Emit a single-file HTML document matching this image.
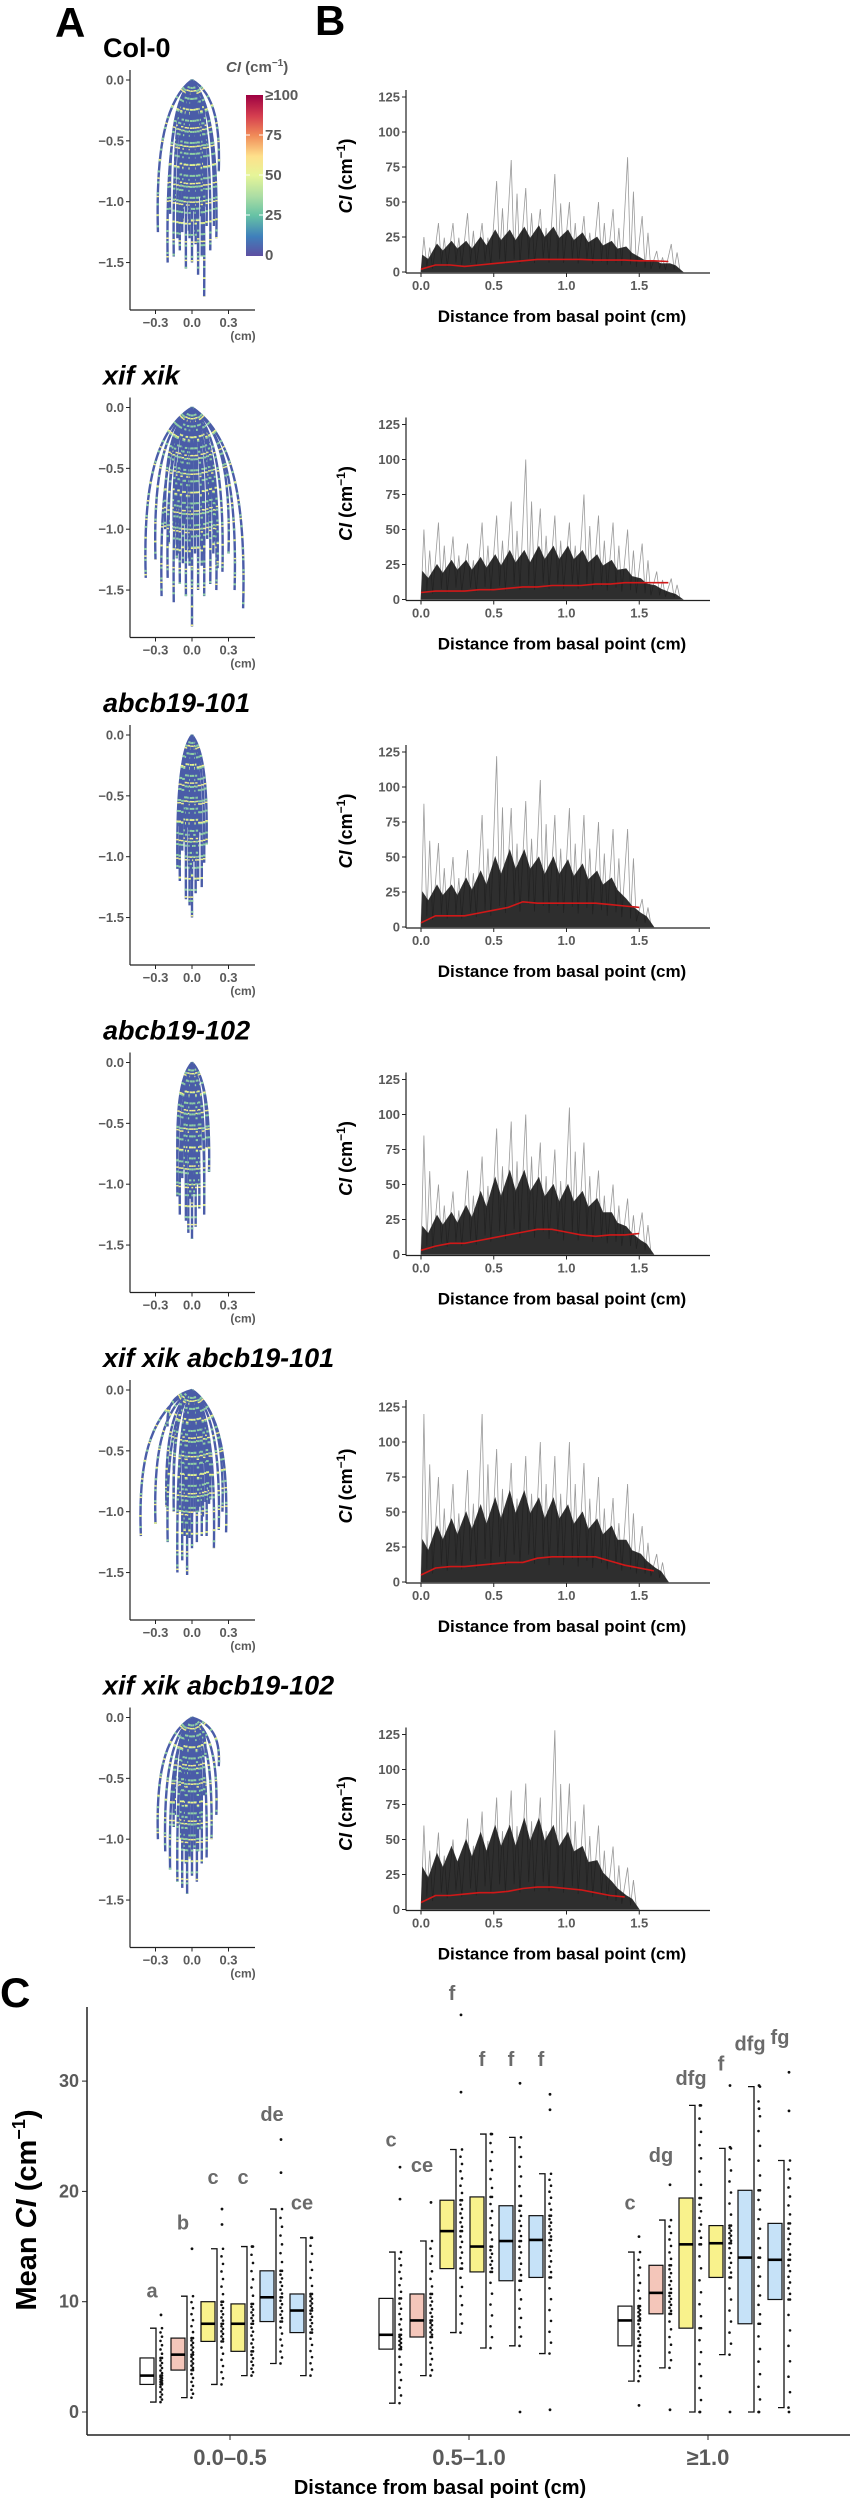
<!DOCTYPE html>
<html><head><meta charset="utf-8"><style>
body{margin:0;background:#fff}
svg text{font-family:"Liberation Sans",sans-serif}
</style></head><body>
<svg id="fig" width="850" height="2500" viewBox="0 0 850 2500" xmlns="http://www.w3.org/2000/svg">
<defs>
<linearGradient id="spec" x1="0" y1="1" x2="0" y2="0">
<stop offset="0" stop-color="#5e4fa2"/><stop offset="0.12" stop-color="#3f7fbb"/><stop offset="0.25" stop-color="#66c2a5"/><stop offset="0.37" stop-color="#abdda4"/><stop offset="0.5" stop-color="#e6f598"/><stop offset="0.62" stop-color="#fee08b"/><stop offset="0.75" stop-color="#f08a58"/><stop offset="0.87" stop-color="#d53e4f"/><stop offset="1" stop-color="#9e0142"/>
</linearGradient>
</defs>
<text x="55" y="37" font-size="42" font-weight="bold">A</text>
<text x="315" y="35" font-size="42" font-weight="bold">B</text>
<text x="0" y="2007" font-size="42" font-weight="bold">C</text>
<g id="rows"></g>
<g id="pc"></g>
</svg>
<script>
const NS="http://www.w3.org/2000/svg";
function mk(tag,attrs,parent,txt){const e=document.createElementNS(NS,tag);for(const k in attrs)e.setAttribute(k,attrs[k]);if(txt!==undefined)e.textContent=txt;parent.appendChild(e);return e;}

// ---- Panel A/B data ----
const genotypes=["Col-0","xif xik","abcb19-101","abcb19-102","xif xik abcb19-101","xif xik abcb19-102"];
const tips1=[[-0.28,-1.25],[-0.2,-1.5],[-0.15,-1.45],[-0.1,-1.4],[-0.05,-1.55],[0,-1.5],[0.05,-1.6],[0.1,-1.78],[0.15,-1.4],[0.2,-1.3],[0.22,-0.75],[0.18,-1.2],[-0.08,-1.25],[0.03,-1.35],[-0.12,-1.3],[0.08,-1.45],[-0.02,-1.3],[0.12,-1.2],[-0.18,-1.1],[0.1,-0.9]];
const tips2=[[-0.38,-1.4],[-0.3,-1.25],[-0.25,-1.55],[-0.2,-1.4],[-0.15,-1.6],[-0.1,-1.45],[-0.05,-1.55],[0,-1.8],[0.05,-1.5],[0.1,-1.55],[0.15,-1.45],[0.2,-1.5],[0.25,-1.35],[0.3,-1.2],[0.42,-1.65],[0.35,-1.5],[-0.02,-1.3],[0.08,-1.3],[-0.12,-1.2],[0.18,-1.1],[0.0,-1.0],[-0.22,-1.0]];
const tips3=[[-0.12,-1.1],[-0.1,-1.2],[-0.05,-1.35],[0,-1.5],[0.03,-1.3],[0.05,-1.2],[0.1,-1.05],[0.12,-0.9],[-0.08,-0.95],[0.0,-1.1],[0.08,-1.25],[-0.02,-1.4],[0.06,-0.8],[-0.1,-0.75],[0.02,-1.0]];
const tips4=[[-0.12,-1.1],[-0.1,-1.25],[-0.05,-1.3],[0,-1.45],[0.03,-1.35],[0.06,-1.2],[0.1,-1.05],[0.14,-0.9],[-0.08,-0.95],[0.0,-1.15],[0.1,-1.25],[-0.03,-1.4],[0.12,-0.7],[-0.12,-0.8],[0.04,-1.0]];
const tips5=[[-0.42,-1.2],[-0.3,-1.1],[-0.2,-1.25],[-0.12,-1.5],[-0.08,-1.4],[-0.04,-1.52],[0,-1.3],[0.04,-1.25],[0.08,-1.2],[0.12,-1.2],[0.18,-1.3],[0.22,-1.15],[0.28,-1.17],[0.25,-1.0],[-0.15,-1.0],[0.05,-1.0],[-0.05,-1.1],[0.15,-0.9],[0.1,-0.6],[-0.2,-0.3]];
const tips6=[[-0.28,-1.0],[-0.22,-1.1],[-0.18,-1.25],[-0.12,-1.35],[-0.08,-1.4],[-0.04,-1.45],[0,-1.3],[0.04,-1.35],[0.08,-1.2],[0.12,-1.15],[0.16,-1.0],[0.2,-0.8],[-0.15,-0.9],[0.05,-1.1],[-0.05,-1.2],[0.22,-0.4],[-0.1,-0.6]];
const allTips=[tips1,tips2,tips3,tips4,tips5,tips6];

const dense1=[12,20,22,22,25,30,30,32,33,32,30,28,25,22,18,10,8,6];
const spike1=[25,35,35,42,35,65,80,60,45,70,50,40,50,45,82,40,15,20];
const mean1=[2,5,5,4,5,6,7,8,9,9,9,9,8.5,8.5,8.5,8,8,7.5];
const dense2=[20,25,28,28,30,32,35,35,38,38,38,35,32,28,22,15,10,5];
const spike2=[50,55,45,40,55,60,70,100,65,60,55,75,60,55,50,40,20,15];
const mean2=[5,6,6,6,7,7,8,9,9,10,10,10,11,11,12,12,12,12];
const dense3=[25,30,30,35,40,50,55,55,50,50,48,45,40,35,20,10];
const spike3=[88,60,50,55,80,122,85,90,105,80,85,80,75,70,70,20];
const mean3=[3,8,8,8,10,12,14,18,17,17,17,17,17,16,15,14];
const dense4=[20,28,30,35,45,55,60,60,55,50,50,45,40,30,20,10];
const spike4=[85,50,45,60,70,90,95,100,80,75,105,80,60,50,40,30];
const mean4=[3,6,8,8,10,12,14,16,18,18,16,14,13,14,14,15];
const dense5=[30,40,45,50,55,60,65,65,60,60,55,50,45,40,30,20,10];
const spike5=[120,75,70,80,120,95,85,90,100,90,100,85,75,60,70,40,20];
const mean5=[5,10,11,11,12,13,14,14,17,18,18,18,18,15,12,10,8];
const dense6=[30,40,45,50,55,60,60,65,65,60,55,45,35,20,10];
const spike6=[60,55,50,65,70,80,85,90,80,128,90,75,60,45,30];
const mean6=[5,10,10,11,12,12,13,15,16,16,15,14,12,10,9];
const denseAll=[dense1,dense2,dense3,dense4,dense5,dense6];
const spikeAll=[spike1,spike2,spike3,spike4,spike5,spike6];
const meanAll=[mean1,mean2,mean3,mean4,mean5,mean6];
const aYTicks=[0,-0.5,-1.0,-1.5], aYLabels=["0.0","\u22120.5","\u22121.0","\u22121.5"];
const aXTicks=[-0.3,0,0.3], aXLabels=["\u22120.3","0.0","0.3"];
const bYTicks=[0,25,50,75,100,125];
const bXTicks=[0,0.5,1.0,1.5], bXLabels=["0.0","0.5","1.0","1.5"];
const BIN=0.1;

const rowsG=document.getElementById('rows');
const GRAY="#5a5a5a";
genotypes.forEach((name,r)=>{
  const off=r*327.5;
  const g=mk('g',{},rowsG);
  
  
  const t=mk('text',{x:103,y:57+off,'font-size':27,'font-weight':'bold','font-style':r===0?'normal':'italic'},g,name);
  
  
  // Panel A root map
  const ax=v=>192+v*121.7, ay=v=>80+off-v*121.7;
  const ag=mk('g',{},g);
  
  
  mk('line',{x1:130,y1:70+off,x2:130,y2:310+off,stroke:'#222','stroke-width':1.2},ag);
  mk('line',{x1:130,y1:310+off,x2:255,y2:310+off,stroke:'#222','stroke-width':1.2},ag);
  aYTicks.forEach((v,i)=>{mk('line',{x1:126,x2:130,y1:ay(v),y2:ay(v),stroke:'#222'},ag);
    mk('text',{x:124,y:ay(v)+4.5,'text-anchor':'end','font-size':13,'font-weight':'bold',fill:GRAY},ag,aYLabels[i]);});
  aXTicks.forEach((v,i)=>{mk('line',{x1:ax(v),x2:ax(v),y1:310+off,y2:314+off,stroke:'#222'},ag);
    mk('text',{x:ax(v),y:327+off,'text-anchor':'middle','font-size':13,'font-weight':'bold',fill:GRAY},ag,aXLabels[i]);});
  mk('text',{x:243,y:340+off,'text-anchor':'middle','font-size':12,'font-weight':'bold',fill:GRAY},ag,"(cm)");
  allTips[r].forEach(tp=>{
    [1,0.8].forEach((s,si)=>{
      const tx=tp[0]*(si?0.5:1), ty=tp[1]*s;
      const d=`M${ax(0)},${ay(0)} C${ax(tx*0.9)},${ay(ty*0.15)} ${ax(tx*1.05)},${ay(ty*0.55)} ${ax(tx)},${ay(ty)}`;
      const p=mk('path',{d,fill:'none',stroke:'#4a5ca8','stroke-width':2.4},ag);
      
      
      mk('path',{d,fill:'none',stroke:'#8fcfa4','stroke-width':2.4,'stroke-dasharray':'2 9','stroke-dashoffset':si*4},ag);
      mk('path',{d,fill:'none',stroke:'#eef08c','stroke-width':2.4,'stroke-dasharray':'1.5 17','stroke-dashoffset':5+si*3},ag);
    });
  });
  // Panel B
  const bx=v=>421+v*145.5, by=v=>272+off-v*1.4;
  const bg=mk('g',{},g);
  
  
  let sp=`M${bx(0)},${by(0)}`;
  spikeAll[r].forEach((v,i)=>{sp+=` L${bx(i*BIN+0.02)},${by(v)} L${bx(i*BIN+0.04)},${by(denseAll[r][i]*0.3)} L${bx(i*BIN+0.06)},${by(v*0.7)} L${bx(i*BIN+0.08)},${by(denseAll[r][i]*0.2)}`;});
  const spk=mk('path',{d:sp,fill:'none',stroke:'#9a9a9a','stroke-width':0.8},bg);
  
  
  let dp=`M${bx(0)},${by(0)}`;
  denseAll[r].forEach((v,i)=>{dp+=` L${bx(i*BIN+0.01)},${by(v)} L${bx(i*BIN+0.05)},${by(v*0.75)}`;});
  dp+=` L${bx(denseAll[r].length*BIN)},${by(0)} Z`;
  const dn=mk('path',{d:dp,fill:'#111','fill-opacity':0.88,stroke:'#333','stroke-width':0.6},bg);
  
  
  const ml=mk('polyline',{points:meanAll[r].map((v,i)=>`${bx(i*BIN)},${by(v)}`).join(' '),fill:'none',stroke:'#d01818','stroke-width':1.6},bg);
  
  
  mk('line',{x1:406,y1:90+off,x2:406,y2:273+off,stroke:'#222','stroke-width':1.2},bg);
  mk('line',{x1:406,y1:273+off,x2:710,y2:273+off,stroke:'#222','stroke-width':1.2},bg);
  bYTicks.forEach(v=>{mk('line',{x1:402,x2:406,y1:by(v),y2:by(v),stroke:'#222'},bg);
    mk('text',{x:400,y:by(v)+4.5,'text-anchor':'end','font-size':13,'font-weight':'bold',fill:GRAY},bg,String(v));});
  bXTicks.forEach((v,i)=>{mk('line',{x1:bx(v),x2:bx(v),y1:273+off,y2:277+off,stroke:'#222'},bg);
    mk('text',{x:bx(v),y:290+off,'text-anchor':'middle','font-size':13,'font-weight':'bold',fill:GRAY},bg,bXLabels[i]);});
  const yt=mk('text',{x:0,y:0,transform:`translate(352,${176+off}) rotate(-90)`,'text-anchor':'middle','font-size':18,'font-weight':'bold'},bg);
  
  
  mk('tspan',{'font-style':'italic'},yt,'CI');mk('tspan',{},yt,' (cm');mk('tspan',{'font-size':12,dy:-7},yt,'\u22121');mk('tspan',{dy:7},yt,')');
  const xt=mk('text',{x:562,y:322+off,'text-anchor':'middle','font-size':17,'font-weight':'bold'},bg,'Distance from basal point (cm)');
  
  
});
// colorbar
(function(){
  const g=mk('g',{},rowsG);
  
  
  const t=mk('text',{x:226,y:72,'font-size':15,'font-weight':'bold',fill:GRAY},g);
  mk('tspan',{'font-style':'italic'},t,'CI');mk('tspan',{},t,' (cm');mk('tspan',{'font-size':10,dy:-6},t,'\u22121');mk('tspan',{dy:6},t,')');
  mk('rect',{x:246,y:95,width:17,height:161,fill:'url(#spec)'},g);
  const lv=["0","25","50","75","\u2265100"];
  lv.forEach((s,i)=>{const y=255-i*40;mk('text',{x:265,y:y+5,'font-size':15,'font-weight':'bold',fill:GRAY},g,s);
    if(i>0&&i<4){mk('line',{x1:246,x2:250,y1:y,y2:y,stroke:'#fff'},g);mk('line',{x1:259,x2:263,y1:y,y2:y,stroke:'#fff'},g);}});
})();

// ---- Panel C data ----
const groups=["0.0\u20130.5","0.5\u20131.0","\u22651.0"];
const fills=["#ffffff","#f4c6ba","#f9f28c","#f9f28c","#c6e2f8","#c6e2f8"];
const q1=[[2.5,3.8,6.4,5.5,8.2,7.2],[5.7,6.8,13,12.7,11.9,12.2],[6,8.9,7.6,12.2,8,10.2]];
const med=[[3.3,5.2,8,8,10.4,9.2],[7,8.3,16.4,15,15.5,15.6],[8.3,10.8,15.2,15.3,14,13.8]];
const q3=[[4.9,6.7,10,9.8,12.8,10.7],[10.3,10.7,19.2,19.5,18.7,17.8],[9.6,13.3,19.4,16.9,20.1,17.1]];
const wlo=[[0.9,1.3,2.5,3.3,4.4,3.3],[0.8,3.3,7.2,5.8,6,5.3],[2.8,4,0,5.2,0,0.4]];
const whi=[[7.6,10.5,14.8,15,18.4,15.8],[14.5,15.5,23.8,25.2,24.9,21.6],[14.5,17.4,27.8,23.9,29.5,22.8]];
const letters=[["a","b","c","c","de","ce"],["c","ce","f","f","f","f"],["c","dg","dfg","f","dfg","fg"]];
const letterY=[[11,17.2,21.3,21.3,27,19],[24.7,22.4,38,32,32,32],[19,23.3,30.3,31.6,33.4,34]];
const outliers=[[[8.8],[14.8],[18.4,17],[15],[24.7,21.7],[15.8]],[[22.2,19.3],[19],[36,29],[25.2],[29.8,0],[28.8,27.4,0.2]],[[15.9,0.6],[20.6,0.2],[27.8,0],[24,29.6,0],[29.6,27.5,0],[30.8,27.3,0]]];
const yTicksC=[0,10,20,30];
const groupX=[230,469,708], boxOff=[-83,-52,-22,8,37,67];

const pc=document.getElementById('pc');
const cy=v=>2412-v*11.03;
mk('line',{x1:87,y1:2007,x2:87,y2:2435,stroke:'#222','stroke-width':1.5},pc);
mk('line',{x1:87,y1:2435,x2:850,y2:2435,stroke:'#222','stroke-width':1.5},pc);
yTicksC.forEach(v=>{mk('line',{x1:82,x2:87,y1:cy(v),y2:cy(v),stroke:'#222'},pc);
  mk('text',{x:79,y:cy(v)+6,'text-anchor':'end','font-size':18,'font-weight':'bold',fill:GRAY},pc,String(v));});
groups.forEach((s,gi)=>{mk('line',{x1:groupX[gi],x2:groupX[gi],y1:2435,y2:2440,stroke:'#222'},pc);
  const t=mk('text',{x:groupX[gi],y:2465,'text-anchor':'middle','font-size':22,'font-weight':'bold',fill:GRAY},pc,s);
  
  
  for(let b=0;b<6;b++){
    const c=groupX[gi]+boxOff[b];
    const bgp=mk('g',{},pc);
    
    
    const wx=c+9;
    mk('path',{d:`M${c+3},${cy(whi[gi][b])} H${wx} V${cy(wlo[gi][b])} H${c+3}`,fill:'none',stroke:'#111','stroke-width':1.3},bgp);
    mk('rect',{x:c-7,y:cy(q3[gi][b]),width:14,height:cy(q1[gi][b])-cy(q3[gi][b]),fill:fills[b],stroke:'#111','stroke-width':1.2},bgp);
    mk('line',{x1:c-7,x2:c+7,y1:cy(med[gi][b]),y2:cy(med[gi][b]),stroke:'#000','stroke-width':2.6},bgp);
    const lo=wlo[gi][b],hi=whi[gi][b];
    const pts=[lo,q1[gi][b],med[gi][b],q3[gi][b],hi];
    for(let k=0;k<4;k++){const a=pts[k],z=pts[k+1];for(let j=0;j<=7;j++){mk('circle',{cx:c+13.5+(j%2)*1.5,cy:cy(a+(z-a)*j/7),r:1.3,fill:'#111'},bgp);}}
    outliers[gi][b].forEach(v=>mk('circle',{cx:c+14,cy:cy(v),r:1.4,fill:'#111'},bgp));
    mk('text',{x:c+5,y:cy(letterY[gi][b])+7,'text-anchor':'middle','font-size':20,'font-weight':'bold',fill:'#6a6a6a'},bgp,letters[gi][b]);
  }
});
const cyt=mk('text',{x:0,y:0,transform:'translate(36,2210) rotate(-90)','text-anchor':'middle','font-size':29,'font-weight':'bold'},pc);


mk('tspan',{},cyt,'Mean ');mk('tspan',{'font-style':'italic'},cyt,'CI');mk('tspan',{},cyt,' (cm');mk('tspan',{'font-size':18,dy:-11},cyt,'\u22121');mk('tspan',{dy:11},cyt,')');
const cxt=mk('text',{x:440,y:2494,'text-anchor':'middle','font-size':20,'font-weight':'bold'},pc,'Distance from basal point (cm)');


</script>
</body></html>
